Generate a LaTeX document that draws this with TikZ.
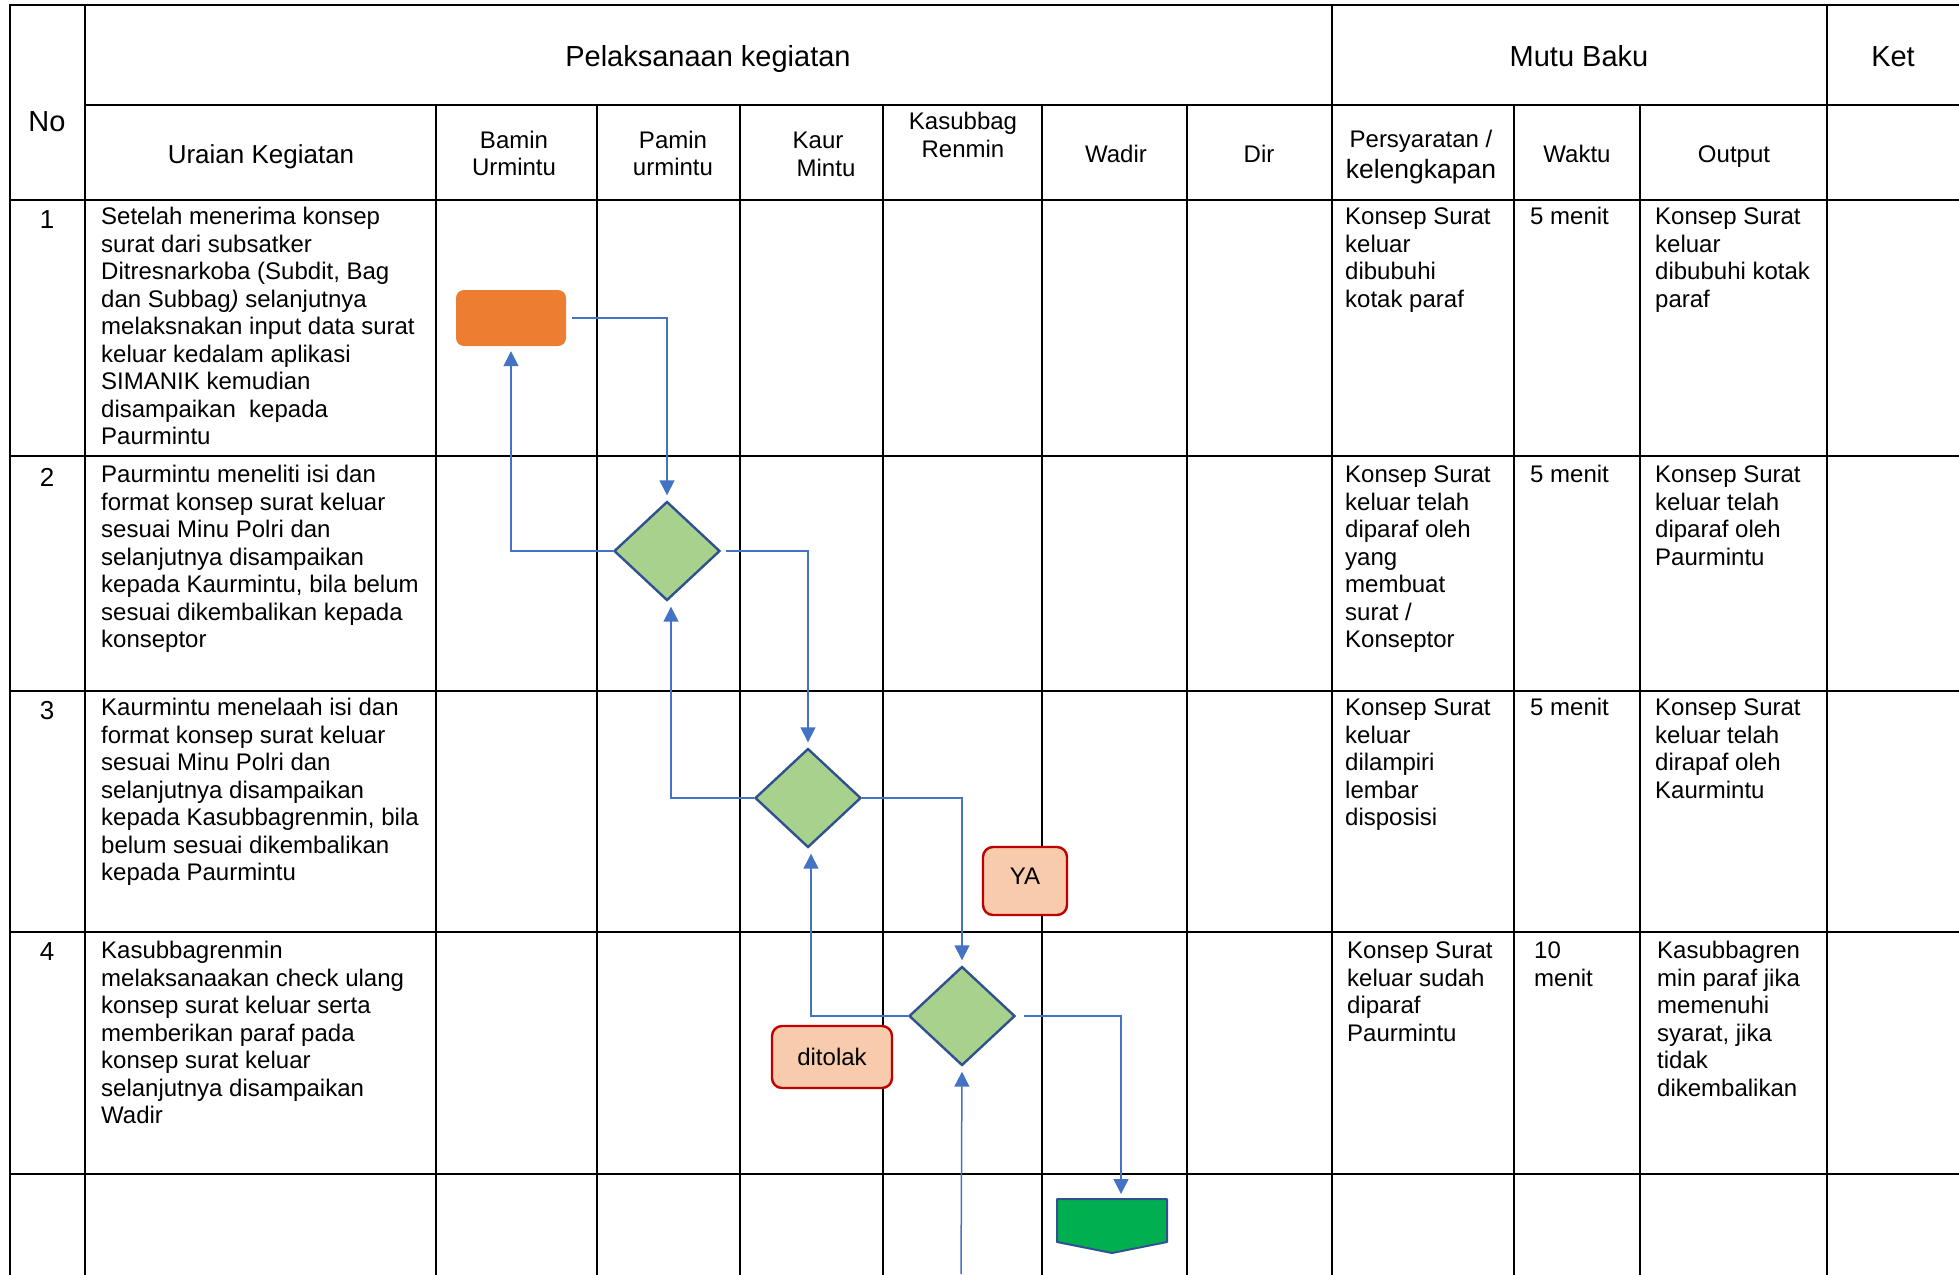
\documentclass[tikz,border=0pt]{standalone}
\usepackage{fontspec}
\setmainfont{Liberation Sans}
\usetikzlibrary{arrows.meta,shapes.geometric}
\definecolor{lnblue}{HTML}{4472C4}
\definecolor{dkblue}{HTML}{2F528F}
\definecolor{dfill}{HTML}{A9D18E}
\definecolor{orng}{HTML}{ED7D31}
\definecolor{peach}{HTML}{F8CBAD}
\definecolor{redb}{HTML}{C00000}
\definecolor{grn}{HTML}{00B050}
\begin{document}
\begin{tikzpicture}[x=1pt,y=-1pt,
  grid/.style={line width=2.6pt, black, line cap=rect},
  cell/.style={anchor=north west, inner sep=0pt, align=left, font=\fontsize{24}{27.5}\selectfont},
  hdr/.style={inner sep=0pt, align=center, font=\fontsize{24}{27.5}\selectfont},
  hone/.style={inner sep=0pt, anchor=base, font=\fontsize{24}{27.5}\selectfont},
  big/.style={inner sep=0pt, anchor=base, font=\fontsize{29}{33}\selectfont},
  num/.style={inner sep=0pt, font=\fontsize{26}{30}\selectfont},
  dec/.style={diamond, draw=dkblue, fill=dfill, line width=2.4pt, minimum width=106pt, minimum height=99pt, inner sep=0pt},
  flow/.style={draw=lnblue, line width=1.5pt, -{Triangle[length=15pt,width=15pt]}, shorten >=5pt},
  lbl/.style={draw=redb, fill=peach, line width=2.4pt, rounded corners=10pt, inner sep=0pt, font=\fontsize{24}{27.5}\selectfont}
]
\useasboundingbox[fill=white] (0,0) rectangle (1959,1274);

% grid
\draw[grid] (10,5) -- (1959,5);
\draw[grid] (85,105) -- (1959,105);
\foreach \y in {200,456,691,932,1174} \draw[grid] (10,\y) -- (1959,\y);
\foreach \x in {10,85,1332,1827} \draw[grid] (\x,5) -- (\x,1274);
\foreach \x in {436,597,740,883,1042,1187,1514,1640} \draw[grid] (\x,105) -- (\x,1274);

% headers
\node[big] (hpel) at (708,66.5) {Pelaksanaan kegiatan};
\node[big] (hmutu) at (1579,66.5) {Mutu Baku};
\node[big] (hket) at (1893,66.5) {Ket};
\node[big] (hno) at (47,131.5) {No};
\node[hone, font=\fontsize{26}{30}\selectfont] (hur) at (261,163.5) {Uraian Kegiatan};
\node[hdr] (hbamin) at (514,153.5) {Bamin\\Urmintu};
\node[hdr] (hpamin) at (673,153.5) {Pamin\\urmintu};
\node[hdr, anchor=base] (hkaur) at (818,148.5) {Kaur};
\node[hdr, anchor=base] (hmintu) at (826,176) {Mintu};
\node[hdr] (hkasub) at (963,135) {Kasubbag\\Renmin};
\node[hone] (hwadir) at (1116,162.6) {Wadir};
\node[hone] (hdir) at (1259,162.6) {Dir};
\node[hdr, anchor=base] (hpers) at (1421,147.5) {Persyaratan /};
\node[hdr, anchor=base, font=\fontsize{26.5}{30}\selectfont] (hkel) at (1421,178) {kelengkapan};
\node[hone] (hwaktu) at (1577,162.6) {Waktu};
\node[hone] (hout) at (1734,162.6) {Output};

% numbers
\node[num] (n1) at (47,220) {1};
\node[num] (n2) at (47,477) {2};
\node[num] (n3) at (47,711) {3};
\node[num] (n4) at (47,952) {4};

% row 1
\node[cell] (u1) at (101,205.4) {\strut Setelah menerima konsep\\surat dari subsatker\\Ditresnarkoba (Subdit, Bag\\dan Subbag\textit{)} selanjutnya\\melaksnakan input data surat\\keluar kedalam aplikasi\\SIMANIK kemudian\\disampaikan\ \ kepada\\Paurmintu};
\node[cell] (p1) at (1345,205.4) {\strut Konsep Surat\\keluar\\dibubuhi\\kotak paraf};
\node[cell] (w1) at (1530,205.4) {\strut 5 menit};
\node[cell] (o1) at (1655,205.4) {\strut Konsep Surat\\keluar\\dibubuhi kotak\\paraf};

% row 2
\node[cell] (u2) at (101,463.4) {\strut Paurmintu meneliti isi dan\\format konsep surat keluar\\sesuai Minu Polri dan\\selanjutnya disampaikan\\kepada Kaurmintu, bila belum\\sesuai dikembalikan kepada\\konseptor};
\node[cell] (p2) at (1345,463.4) {\strut Konsep Surat\\keluar telah\\diparaf oleh\\yang\\membuat\\surat /\\Konseptor};
\node[cell] (w2) at (1530,463.4) {\strut 5 menit};
\node[cell] (o2) at (1655,463.4) {\strut Konsep Surat\\keluar telah\\diparaf oleh\\Paurmintu};

% row 3
\node[cell] (u3) at (101,696.4) {\strut Kaurmintu menelaah isi dan\\format konsep surat keluar\\sesuai Minu Polri dan\\selanjutnya disampaikan\\kepada Kasubbagrenmin, bila\\belum sesuai dikembalikan\\kepada Paurmintu};
\node[cell] (p3) at (1345,696.4) {\strut Konsep Surat\\keluar\\dilampiri\\lembar\\disposisi};
\node[cell] (w3) at (1530,696.4) {\strut 5 menit};
\node[cell] (o3) at (1655,696.4) {\strut Konsep Surat\\keluar telah\\dirapaf oleh\\Kaurmintu};

% row 4
\node[cell] (u4) at (101,939.4) {\strut Kasubbagrenmin\\melaksanaakan check ulang\\konsep surat keluar serta\\memberikan paraf pada\\konsep surat keluar\\selanjutnya disampaikan\\Wadir};
\node[cell] (p4) at (1347,939.4) {\strut Konsep Surat\\keluar sudah\\diparaf\\Paurmintu};
\node[cell] (w4) at (1534,939.4) {\strut 10\\menit};
\node[cell] (o4) at (1657,939.4) {\strut Kasubbagren\\min paraf jika\\memenuhi\\syarat, jika\\tidak\\dikembalikan};

% flow shapes
\node[fill=orng, rounded corners=8pt, minimum width=110pt, minimum height=56pt, inner sep=0pt] (start) at (511,318) {};
\node[dec] (d1) at (667,551) {};
\node[dec] (d2) at (808,798) {};
\node[dec] (d3) at (962,1016) {};
\node[lbl, minimum width=84pt, minimum height=68pt, text height=17.2pt, text depth=10pt] (ya) at (1025,881) {YA};
\node[lbl, minimum width=120pt, minimum height=62pt] (tolak) at (832,1057) {ditolak};
\draw[draw=dkblue, fill=grn, line width=2pt, line join=round] (1057,1199) -- (1167,1199) -- (1167,1242) -- (1112,1253) -- (1057,1242) -- cycle;
\coordinate (pentop) at (1121,1199);
\coordinate (bot) at (961,1274);

% connectors
\draw[flow] ([xshift=6pt]start.east) -| (d1.north);
\draw[flow] (d1.west) -| (start.south);
\draw[flow] ([xshift=5pt]d1.east) -| (d2.north);
\draw[flow] (d2.west) -| ([xshift=4pt]d1.south);
\draw[flow] (d2.east) -| (d3.north);
\draw[flow] (d3.west) -| ([xshift=3pt]d2.south);
\draw[flow] ([xshift=8pt]d3.east) -| (pentop);
\draw[flow] (bot) -- (d3.south);
\end{tikzpicture}
\end{document}
